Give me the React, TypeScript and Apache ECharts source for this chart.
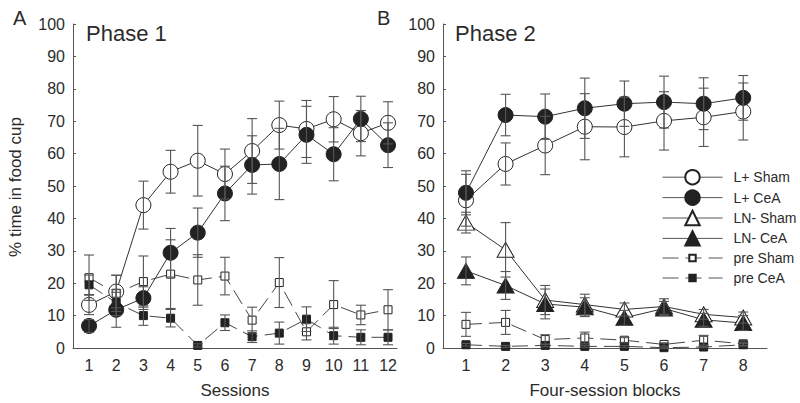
import React, { useEffect, useRef } from "react";
import * as echarts from "echarts";

const sessions = [1, 2, 3, 4, 5, 6, 7, 8, 9, 10, 11, 12];
const blocks = [1, 2, 3, 4, 5, 6, 7, 8];
const yTicks = [0, 10, 20, 30, 40, 50, 60, 70, 80, 90, 100];

// Phase 1 (Sessions)
const p1LSham = [13.3, 17.4, 44.1, 54.4, 57.8, 53.7, 60.8, 68.8, 67.6, 70.6, 66.3, 69.5];
const p1LShamErr = [3, 5, 7.4, 6.6, 10.9, 7.7, 10, 7.4, 8.8, 7, 7, 6.5];
const p1LCeA = [6.8, 11.8, 15.4, 29.4, 35.6, 47.7, 56.5, 56.8, 65.8, 59.8, 70.7, 62.6];
const p1LCeAErr = [2, 5.4, 3.5, 7.5, 7.6, 8.4, 9, 11, 8.8, 8.2, 7, 6.9];
const p1PreSham = [21.7, 16.9, 20.5, 22.8, 21, 22.2, 8.6, 20.2, 5, 13.4, 10.2, 11.8];
const p1PreShamErr = [7, 5.6, 7.9, 10.6, 7.8, 5.8, 4, 7.7, 2.5, 7.4, 3, 6.2];
const p1PreCeA = [19.5, 14, 10, 9.2, 0.8, 7.8, 3.5, 4.6, 8.9, 3.8, 3.3, 3.3];
const p1PreCeAErr = [3, 4, 3, 2.7, 0.5, 2.4, 1.8, 3.4, 3.8, 2.6, 2.3, 2.3];

// Phase 2 (Four-session blocks)
const p2LSham = [45.6, 56.8, 62.5, 68.3, 68.2, 70.1, 71.2, 73];
const p2LShamErr = [8, 6.5, 9, 10.2, 9.2, 9, 9, 8.8];
const p2LCeA = [47.9, 71.9, 71.4, 74, 75.4, 75.9, 75.4, 77.2];
const p2LCeAErr = [6.8, 6.4, 7, 9.3, 7, 8, 8, 6.9];
const p2LNSham = [38.7, 30.3, 14.8, 13.4, 11.9, 12.8, 10.4, 9.4];
const p2LNShamErr = [3.2, 8.4, 4.5, 3.2, 2, 2.4, 1.5, 1.7];
const p2LNCeA = [23.8, 19.3, 13.6, 12.6, 9.3, 12.2, 8.7, 7.7];
const p2LNCeAErr = [4.3, 4.3, 4.6, 2.9, 2.3, 2.2, 2, 2.3];
const p2PreSham = [7.3, 7.9, 2.6, 3.1, 2.4, 1.1, 2.4, 1.3];
const p2PreShamErr = [3.7, 3.7, 1.5, 1.8, 0.8, 0.5, 1.5, 0.5];
const p2PreCeA = [1, 0.5, 0.8, 0.5, 0.5, 0.1, 0.3, 1];
const p2PreCeAErr = [0.4, 0.3, 0.4, 0.3, 0.3, 0.2, 0.2, 0.4];

const names = ["L+ Sham", "L+ CeA", "LN- Sham", "LN- CeA", "pre Sham", "pre CeA"];

const TXT = "#2b2b2b";
const AX = "#555";
const FONT = "'Liberation Sans', Arial, sans-serif";

type Sty = { symbol: string; size: any; fill: string; dashed: boolean };
const styles: Record<string, Sty> = {
  "L+ Sham": { symbol: "circle", size: 15, fill: "#ffffff", dashed: false },
  "L+ CeA": { symbol: "circle", size: 15, fill: "#222222", dashed: false },
  "LN- Sham": { symbol: "triangle", size: [17, 15], fill: "#ffffff", dashed: false },
  "LN- CeA": { symbol: "triangle", size: [17, 15], fill: "#222222", dashed: false },
  "pre Sham": { symbol: "rect", size: 8, fill: "#ffffff", dashed: true },
  "pre CeA": { symbol: "rect", size: 8, fill: "#222222", dashed: true },
};

function lineSeries(name: string, xs: number[], ys: number[], idx: number) {
  const s = styles[name];
  return {
    type: "line",
    name,
    xAxisIndex: idx,
    yAxisIndex: idx,
    data: xs.map((x, i) => [x, ys[i]]),
    symbol: s.symbol,
    symbolSize: s.size,
    showSymbol: true,
    z: 3,
    itemStyle: { color: s.fill, borderColor: "#222", borderWidth: 1, opacity: 1 },
    lineStyle: {
      color: s.dashed ? "#444" : "#333",
      width: 1,
      type: s.dashed ? [16, 7] : "solid",
    },
    emphasis: { disabled: true },
  };
}

function errSeries(xs: number[], ys: number[], es: number[], idx: number) {
  return {
    type: "custom",
    xAxisIndex: idx,
    yAxisIndex: idx,
    z: 4,
    silent: true,
    data: xs.map((x, i) => [x, ys[i] - es[i], ys[i] + es[i]]),
    renderItem: (params: any, api: any) => {
      const x = api.value(0);
      const lo = api.coord([x, api.value(1)]);
      const hi = api.coord([x, api.value(2)]);
      const hw = 5;
      const st = { stroke: "#555", lineWidth: 1.1 };
      return {
        type: "group",
        children: [
          { type: "line", shape: { x1: lo[0], y1: lo[1], x2: hi[0], y2: hi[1] }, style: st },
          { type: "line", shape: { x1: lo[0] - hw, y1: lo[1], x2: lo[0] + hw, y2: lo[1] }, style: st },
          { type: "line", shape: { x1: hi[0] - hw, y1: hi[1], x2: hi[0] + hw, y2: hi[1] }, style: st },
        ],
      };
    },
  };
}

export default function App() {
  const ref = useRef<HTMLDivElement>(null);
  useEffect(() => {
    if (!ref.current) return;
    const chart = echarts.init(ref.current, null, { renderer: "svg" });

    const xAxisBase = (idx: number, min: number, max: number, vals: number[]) => ({
      type: "value",
      gridIndex: idx,
      min,
      max,
      axisLine: { show: true, onZero: false, lineStyle: { color: AX, width: 1 } },
      axisTick: { show: false },
      splitLine: { show: false },
      axisLabel: { customValues: vals, fontSize: 16, color: TXT, fontFamily: FONT, margin: 9 },
    });
    const yAxisBase = (idx: number) => ({
      type: "value",
      gridIndex: idx,
      min: 0,
      max: 100,
      interval: 10,
      axisLine: { show: true, lineStyle: { color: AX, width: 1 } },
      axisTick: { show: true, inside: true, length: 3, lineStyle: { color: AX } },
      splitLine: { show: false },
      axisLabel: { customValues: yTicks, fontSize: 16, color: TXT, fontFamily: FONT, margin: 8 },
    });

    const series: any[] = [
      lineSeries("L+ Sham", sessions, p1LSham, 0),
      lineSeries("L+ CeA", sessions, p1LCeA, 0),
      lineSeries("pre Sham", sessions, p1PreSham, 0),
      lineSeries("pre CeA", sessions, p1PreCeA, 0),
      lineSeries("L+ Sham", blocks, p2LSham, 1),
      lineSeries("L+ CeA", blocks, p2LCeA, 1),
      lineSeries("LN- Sham", blocks, p2LNSham, 1),
      lineSeries("LN- CeA", blocks, p2LNCeA, 1),
      lineSeries("pre Sham", blocks, p2PreSham, 1),
      lineSeries("pre CeA", blocks, p2PreCeA, 1),
      errSeries(sessions, p1LSham, p1LShamErr, 0),
      errSeries(sessions, p1LCeA, p1LCeAErr, 0),
      errSeries(sessions, p1PreSham, p1PreShamErr, 0),
      errSeries(sessions, p1PreCeA, p1PreCeAErr, 0),
      errSeries(blocks, p2LSham, p2LShamErr, 1),
      errSeries(blocks, p2LCeA, p2LCeAErr, 1),
      errSeries(blocks, p2LNSham, p2LNShamErr, 1),
      errSeries(blocks, p2LNCeA, p2LNCeAErr, 1),
      errSeries(blocks, p2PreSham, p2PreShamErr, 1),
      errSeries(blocks, p2PreCeA, p2PreCeAErr, 1),
    ];

    const legendText = { fontSize: 14, color: TXT, fontFamily: FONT, padding: [0, 0, 0, 6] };
    const legendLine = { width: 1, color: "#555" };

    chart.setOption({
      animation: false,
      grid: [
        { left: 73, right: 403, top: 24, bottom: 55 },
        { left: 443, right: 33, top: 24, bottom: 55 },
      ],
      xAxis: [
        xAxisBase(0, 0.41, 12.33, sessions),
        xAxisBase(1, 0.42, 8.6, blocks),
      ],
      yAxis: [yAxisBase(0), yAxisBase(1)],
      legend: [
        {
          data: names.slice(0, 4),
          orient: "vertical",
          left: 657,
          top: 164,
          itemWidth: 60,
          itemHeight: 18,
          itemGap: 4,
          selectedMode: false,
          textStyle: legendText,
          lineStyle: legendLine,
        },
        {
          data: names.slice(4),
          orient: "vertical",
          left: 657,
          top: 246,
          itemWidth: 60,
          itemHeight: 8,
          itemGap: 6,
          selectedMode: false,
          textStyle: legendText,
          lineStyle: legendLine,
        },
      ],
      graphic: [
        { type: "text", left: 13, top: 8, style: { text: "A", fontSize: 20, fill: TXT, fontFamily: FONT } },
        { type: "text", left: 377, top: 8, style: { text: "B", fontSize: 20, fill: TXT, fontFamily: FONT } },
        { type: "text", left: 86, top: 22, style: { text: "Phase 1", fontSize: 22, fill: TXT, fontFamily: FONT } },
        { type: "text", left: 455, top: 22, style: { text: "Phase 2", fontSize: 22, fill: TXT, fontFamily: FONT } },
        {
          type: "text", x: 235, y: 390,
          style: { text: "Sessions", fontSize: 17, fill: TXT, fontFamily: FONT, align: "center", verticalAlign: "middle" },
        },
        {
          type: "text", x: 605, y: 390,
          style: { text: "Four-session blocks", fontSize: 17, fill: TXT, fontFamily: FONT, align: "center", verticalAlign: "middle" },
        },
        {
          type: "text", x: 15, y: 187, rotation: Math.PI / 2,
          style: { text: "% time in food cup", fontSize: 17, fill: TXT, fontFamily: FONT, align: "center", verticalAlign: "middle" },
        },
      ],
      series,
    });
    return () => chart.dispose();
  }, []);
  return (
    <div
      ref={ref}
      style={{ position: "absolute", left: 0, top: 0, width: 800, height: 403, background: "#fff" }}
    />
  );
}
